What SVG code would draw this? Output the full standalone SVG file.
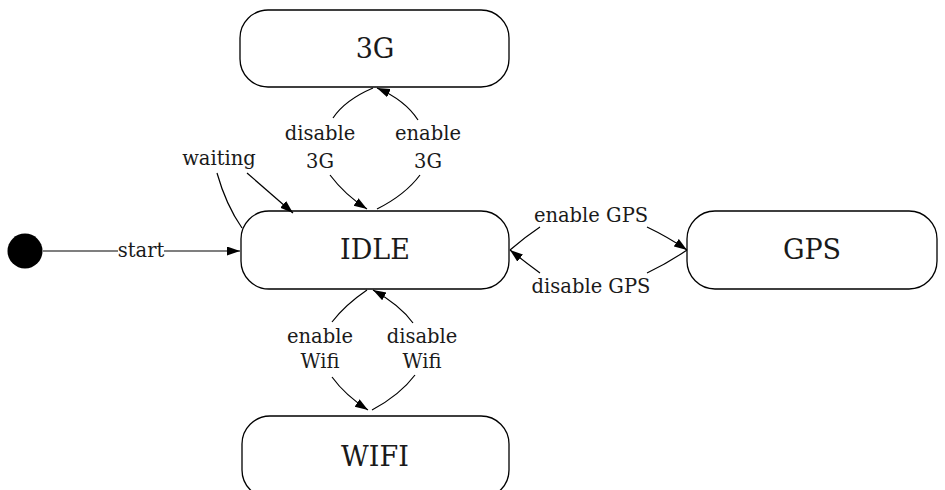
<svg xmlns="http://www.w3.org/2000/svg" width="945" height="490" viewBox="0 0 945 490">
<style>
.node{fill:#fff;stroke:#000;stroke-width:1.3}
.nl{font-family:"DejaVu Serif","Liberation Serif",serif;font-size:27px;fill:#1a1a1a;text-anchor:middle}
.el{font-family:"DejaVu Serif","Liberation Serif",serif;font-size:19.5px;fill:#1a1a1a;text-anchor:middle}
.c{fill:none;stroke:#000;stroke-width:1.2}
.a{marker-end:url(#ah)}
</style>
<defs>
<marker id="ah" markerUnits="userSpaceOnUse" markerWidth="14" markerHeight="10" refX="13" refY="4.5" orient="auto">
<path d="M0,0 L13,4.5 L0,9 z" fill="#000"/>
</marker>
</defs>
<rect width="945" height="490" fill="#fff"/>
<g id="start-node"><circle cx="25" cy="251" r="17.5" fill="#000"/></g>
<g id="n3g"><rect class="node" x="240" y="10" width="269" height="77" rx="28"/><text class="nl" x="375" y="58">3G</text></g>
<g id="idle"><rect class="node" x="241" y="211" width="268" height="78" rx="28"/><text class="nl" x="375" y="259">IDLE</text></g>
<g id="gps"><rect class="node" x="687" y="211" width="250" height="78" rx="28"/><text class="nl" x="812" y="259">GPS</text></g>
<g id="wifi"><rect class="node" x="242" y="416" width="267" height="82" rx="28"/><text class="nl" x="375" y="466">WIFI</text></g>
<g id="connectors">
<path class="c" d="M43,251 L118,251"/>
<path class="c a" d="M164,251 L240,251"/>
<path class="c" d="M242,228 Q226,205 217,173"/>
<path class="c a" d="M247,173 L293,213"/>
<path class="c" d="M373,88 Q345,100 333,118"/>
<path class="c a" d="M330,175 Q345,195 367,209"/>
<path class="c" d="M377,209 Q405,195 420,175"/>
<path class="c a" d="M418,120 Q405,100 377,88"/>
<path class="c" d="M510,250 Q525,237 540,227"/>
<path class="c a" d="M647,227 Q668,237 687,250"/>
<path class="c" d="M687,250 Q668,263 647,273"/>
<path class="c a" d="M540,273 Q525,262 510,250"/>
<path class="c" d="M367,290 Q345,305 332,322"/>
<path class="c a" d="M332,377 Q345,395 368,410"/>
<path class="c" d="M372,410 Q400,395 415,375"/>
<path class="c a" d="M413,323 Q400,305 373,290"/>
</g>
<g id="labels">
<text class="el" x="141" y="257">start</text>
<text class="el" x="219" y="165">waiting</text>
<text class="el" x="320" y="140">disable</text>
<text class="el" x="320" y="168">3G</text>
<text class="el" x="428" y="140">enable</text>
<text class="el" x="428" y="168">3G</text>
<text class="el" x="591" y="222">enable GPS</text>
<text class="el" x="591" y="293">disable GPS</text>
<text class="el" x="320" y="343">enable</text>
<text class="el" x="320" y="368">Wifi</text>
<text class="el" x="422" y="343">disable</text>
<text class="el" x="422" y="368">Wifi</text>
</g>
</svg>
